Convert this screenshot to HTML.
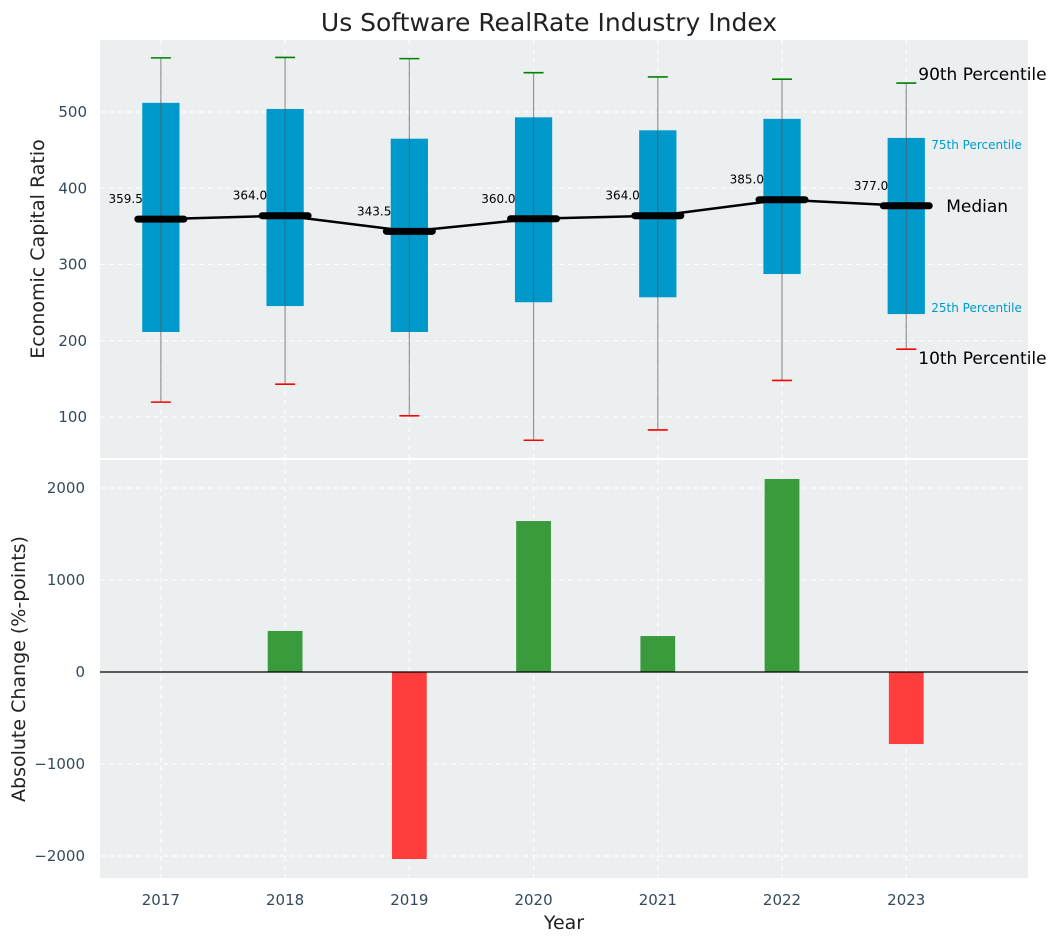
<!DOCTYPE html>
<html><head><meta charset="utf-8">
<style>
html,body{margin:0;padding:0;background:#fff;}
svg{display:block;font-family:"DejaVu Sans","Liberation Sans",sans-serif;}
</style></head>
<body>
<svg id="chart" width="1053" height="942" viewBox="0 0 1053 942" xmlns="http://www.w3.org/2000/svg">
<text x="549" y="31" text-anchor="middle" font-size="25" fill="#222">Us Software RealRate Industry Index</text>
<rect x="100" y="40" width="928" height="418" fill="#ebeff0"/>
<rect x="100" y="460" width="928" height="418" fill="#ebeff0"/>
<g id="g"></g>
<text transform="translate(44,249) rotate(-90)" text-anchor="middle" font-size="19" fill="#222">Economic Capital Ratio</text>
<text transform="translate(25,669) rotate(-90)" text-anchor="middle" font-size="19" fill="#222">Absolute Change (%-points)</text>
<text x="564" y="929" text-anchor="middle" font-size="19" fill="#222">Year</text>
</svg>
<script>
const years = [2017, 2018, 2019, 2020, 2021, 2022, 2023];
const p10 = [119.5, 143, 101.5, 69.5, 83, 148, 189];
const q1 = [211.5, 245.5, 211.5, 250.5, 257, 287.5, 235];
const medians = [359.5, 364.0, 343.5, 360.0, 364.0, 385.0, 377.0];
const q3 = [512, 504, 465, 493, 476, 491, 466];
const p90 = [571, 571.5, 570, 551.5, 546, 543, 538];
const changes = [0, 446, -2033, 1641, 391, 2098, -783];
const topTicks = [100, 200, 300, 400, 500];
const bottomTicks = [-2000, -1000, 0, 1000, 2000];

const NS = "http://www.w3.org/2000/svg";
const g = document.getElementById('g');
function el(tag, attrs, parent) {
  const e = document.createElementNS(NS, tag);
  for (const k in attrs) e.setAttribute(k, attrs[k]);
  (parent || g).appendChild(e);
  return e;
}
const xS = v => 100 + (v - 2016.51) / (2023.98 - 2016.51) * 928;
const yT = v => 417 - (v - 100) * 0.7625;
const yB = v => 672 - v * 0.092;
const pxPerYear = 928 / (2023.98 - 2016.51);

topTicks.forEach(t => {
  const l = el('line', {x1: 100, x2: 1028, y1: yT(t), y2: yT(t), stroke: '#fff', 'stroke-dasharray': '5,4', 'stroke-width': 1});
  
  
  const tx = el('text', {x: 87, y: yT(t) + 5, 'text-anchor': 'end', 'font-size': 15, fill: '#34495e'});
  tx.textContent = t;
  
  
});
bottomTicks.forEach(t => {
  const l = el('line', {x1: 100, x2: 1028, y1: yB(t), y2: yB(t), stroke: '#fff', 'stroke-dasharray': '5,4', 'stroke-width': 1});
  
  
  const tx = el('text', {x: 85, y: yB(t) + 5, 'text-anchor': 'end', 'font-size': 15, fill: '#34495e'});
  tx.textContent = t < 0 ? '\u2212' + Math.abs(t) : t;
  
  
});
years.forEach(yv => {
  [[40, 458], [460, 878]].forEach(r => {
    const l = el('line', {x1: xS(yv), x2: xS(yv), y1: r[0], y2: r[1], stroke: '#fff', 'stroke-dasharray': '5,4', 'stroke-width': 1});
    
    
  });
  const tx = el('text', {x: xS(yv), y: 905, 'text-anchor': 'middle', 'font-size': 15, fill: '#34495e'});
  tx.textContent = yv;
  
  
});

const bw = 0.3 * pxPerYear;
years.forEach((yv, i) => {
  const x = xS(yv);
  const b = el('rect', {x: x - bw / 2, y: yT(q3[i]), width: bw, height: yT(q1[i]) - yT(q3[i]), fill: '#0099cc'});
  
  
  const w = el('line', {x1: x, x2: x, y1: yT(p90[i]), y2: yT(p10[i]), stroke: '#555', 'stroke-opacity': 0.6, 'stroke-width': 1.2});
  
  
  const c9 = el('line', {x1: x - 10, x2: x + 10, y1: yT(p90[i]), y2: yT(p90[i]), stroke: 'green', 'stroke-width': 1.6});
  
  
  const c1 = el('line', {x1: x - 10, x2: x + 10, y1: yT(p10[i]), y2: yT(p10[i]), stroke: 'red', 'stroke-width': 1.6});
  
  
});
const pts = years.map((yv, i) => xS(yv) + ',' + yT(medians[i])).join(' ');
const ml = el('polyline', {points: pts, fill: 'none', stroke: '#000', 'stroke-width': 2.5});


years.forEach((yv, i) => {
  const x = xS(yv), y = yT(medians[i]);
  const m = el('line', {x1: x - 23, x2: x + 23, y1: y, y2: y, stroke: '#000', 'stroke-width': 7, 'stroke-linecap': 'round'});
  
  
  const t = el('text', {x: x - 18, y: y - 16, 'text-anchor': 'end', 'font-size': 12, fill: '#000'});
  t.textContent = medians[i].toFixed(1);
  
  
});
const last = years.length - 1, lx = xS(years[last]);
const ann = [
  ['90th Percentile', lx + 12, yT(p90[last]) - 3, 17, '#000', 'p90-annotation'],
  ['75th Percentile', lx + 25, yT(q3[last]) + 11, 12, '#0099cc', 'q3-annotation'],
  ['Median', lx + 40, yT(medians[last]) + 6, 17, '#000', 'median-annotation'],
  ['25th Percentile', lx + 25, yT(q1[last]) - 2, 12, '#0099cc', 'q1-annotation'],
  ['10th Percentile', lx + 12, yT(p10[last]) + 15, 17, '#000', 'p10-annotation']
];
ann.forEach(a => {
  const t = el('text', {x: a[1], y: a[2], 'font-size': a[3], fill: a[4]});
  t.textContent = a[0];
  
  
});
const barW = 0.28 * pxPerYear;
years.forEach((yv, i) => {
  const v = changes[i];
  if (v === 0) return;
  const r = el('rect', {x: xS(yv) - barW / 2, y: Math.min(yB(v), yB(0)), width: barW, height: Math.abs(yB(v) - yB(0)), fill: v >= 0 ? '#3a9b3c' : '#ff3d3d'});
  
  
});
const z = el('line', {x1: 100, x2: 1028, y1: yB(0), y2: yB(0), stroke: '#000', 'stroke-width': 1.2});


</script>
</body></html>
